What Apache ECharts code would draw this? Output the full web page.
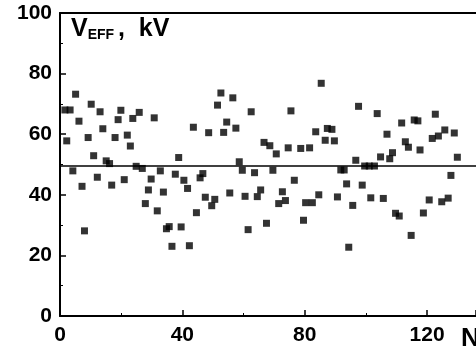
<!DOCTYPE html>
<html>
<head>
<meta charset="utf-8">
<script src="https://cdn.jsdelivr.net/npm/echarts@6/dist/echarts.min.js"></script>
<style>
  html, body { margin: 0; padding: 0; background: #fff; }
  #chart { width: 476px; height: 352px; }
</style>
</head>
<body>
<div id="chart"></div>
<script>
// pulse number N and effective voltage (kV)
const nValues = [
  1.6, 3.3, 2.2, 4.2, 5.1, 6.2, 7.2, 8.0, 9.2, 10.2, 11.0, 12.2, 13.1, 14.0, 15.1, 16.2,
  16.9, 18.0, 19.0, 19.9, 21.0, 22.0, 23.0, 23.8, 24.9, 25.9, 26.9, 27.9, 28.9, 29.8,
  30.8, 31.8, 32.8, 33.8, 34.8, 35.7, 36.6, 37.7, 38.8, 39.6, 40.5, 41.7, 42.3, 43.6,
  44.6, 45.8, 46.7, 47.5, 48.6, 49.6, 50.6, 51.5, 52.6, 53.5, 54.5, 55.5, 56.5, 57.5,
  58.6, 59.6, 60.5, 61.5, 62.5, 63.6, 64.5, 65.6, 66.7, 67.5, 68.6, 69.6, 70.7, 71.5,
  72.7, 73.7, 74.6, 75.5, 76.6, 78.7, 79.6, 80.3, 81.6, 82.5, 83.6, 84.6, 85.4, 86.7,
  87.4, 88.9, 89.7, 90.7, 91.8, 92.9, 93.7, 94.4, 95.7, 96.7, 97.6, 98.8, 99.6, 101.1,
  101.6, 102.8, 103.7, 104.8, 105.7, 106.9, 107.8, 108.7, 109.7, 110.9, 111.7, 112.9,
  113.9, 114.8, 115.8, 117.0, 117.7, 118.8, 120.7, 121.7, 122.7, 123.7, 124.8, 125.8,
  126.9, 127.8, 128.9, 129.9
];
const vEff = [
  68.0, 68.0, 57.8, 47.9, 73.2, 64.3, 42.8, 28.1, 58.9, 69.9, 52.9, 45.8, 67.4, 61.8, 51.2, 50.3,
  43.2, 58.9, 64.8, 67.9, 45.0, 59.7, 56.1, 65.2, 49.4, 67.2, 48.7, 37.1, 41.6, 45.2,
  65.4, 34.7, 47.9, 40.9, 28.8, 29.5, 23.0, 46.8, 52.3, 29.4, 44.8, 42.1, 23.2, 62.3,
  34.1, 45.6, 47.0, 39.2, 60.5, 36.4, 38.5, 69.6, 73.6, 60.6, 64.0, 40.6, 72.0, 62.0,
  50.9, 48.1, 39.5, 28.5, 67.4, 47.3, 39.4, 41.6, 57.3, 30.6, 56.2, 48.1, 53.5, 37.1,
  41.0, 38.1, 55.5, 67.7, 44.8, 55.3, 31.6, 37.4, 55.5, 37.4, 60.8, 40.0, 76.8, 58.0,
  61.9, 61.6, 57.8, 39.3, 48.2, 48.2, 43.6, 22.7, 36.5, 51.4, 69.2, 43.2, 49.5, 49.5,
  39.0, 49.5, 66.8, 52.5, 38.8, 60.0, 51.9, 53.9, 33.9, 33.0, 63.7, 57.5,
  55.7, 26.6, 64.7, 64.4, 54.8, 34.0, 38.3, 58.6, 66.6, 59.4, 37.7, 61.4,
  38.9, 46.4, 60.4, 52.4
];
const meanLevel = 49.7;
const xTicks = [0, 40, 80, 120];
const yTicks = [0, 20, 40, 60, 80, 100];

const FONT = "'Liberation Sans', Arial, sans-serif";

const chart = echarts.init(document.getElementById('chart'), null, { renderer: 'canvas' });

const points = nValues.map((n, i) => [n, vEff[i]]);

const axisLabel = {
  color: '#000',
  fontFamily: FONT,
  fontWeight: 'bold',
  fontSize: 21,
};

const option = {
  animation: false,
  backgroundColor: '#fff',
  grid: { left: 60, right: 0, top: 13, bottom: 36 },
  xAxis: [
    {
      type: 'value',
      min: 0,
      max: 136,
      interval: 40,
      axisLine: { show: true, onZero: false, lineStyle: { color: '#000', width: 2 } },
      axisTick: { show: true, inside: true, length: 6, lineStyle: { color: '#000', width: 1.5 } },
      minorTick: { show: true, splitNumber: 2, length: 3, lineStyle: { color: '#000' } },
      splitLine: { show: false },
      axisLabel: {
        ...axisLabel,
        margin: 9,
        showMaxLabel: false,
        formatter: v => (xTicks.includes(v) ? String(v) : ''),
      },
    },
    {
      // top frame line
      type: 'value',
      position: 'top',
      min: 0,
      max: 136,
      axisLine: { show: true, onZero: false, lineStyle: { color: '#000', width: 2 } },
      axisTick: { show: false },
      axisLabel: { show: false },
      splitLine: { show: false },
    },
  ],
  yAxis: {
    type: 'value',
    min: 0,
    max: 100,
    interval: 20,
    axisLine: { show: true, lineStyle: { color: '#000', width: 2 } },
    axisTick: { show: true, inside: true, length: 6, lineStyle: { color: '#000', width: 1.5 } },
    minorTick: { show: true, splitNumber: 2, length: 3, lineStyle: { color: '#000' } },
    splitLine: { show: false },
    axisLabel: {
      ...axisLabel,
      margin: 8,
      formatter: v => (yTicks.includes(v) ? String(v) : ''),
    },
  },
  graphic: [
    {
      type: 'text',
      left: 71,
      top: 17,
      style: {
        text: '{a|V}{b|EFF }{a|,  kV}',
        rich: {
          a: { fontFamily: FONT, fontWeight: 'bold', fontSize: 25, lineHeight: 27, verticalAlign: 'bottom', fill: '#000' },
          b: { fontFamily: FONT, fontWeight: 'bold', fontSize: 14, lineHeight: 14, verticalAlign: 'bottom', fill: '#000' },
        },
      },
    },
    {
      type: 'text',
      left: 461,
      top: 326,
      style: {
        text: 'N',
        fontFamily: FONT,
        fontWeight: 'bold',
        fontSize: 26,
        fill: '#000',
      },
    },
  ],
  series: [
    {
      type: 'scatter',
      data: points,
      symbol: 'rect',
      symbolSize: 7,
      itemStyle: { color: '#000' },
      markLine: {
        silent: true,
        symbol: 'none',
        label: { show: false },
        lineStyle: { color: '#000', type: 'solid', width: 1.5 },
        data: [{ yAxis: meanLevel }],
      },
    },
  ],
};

chart.setOption(option);
</script>
</body>
</html>
